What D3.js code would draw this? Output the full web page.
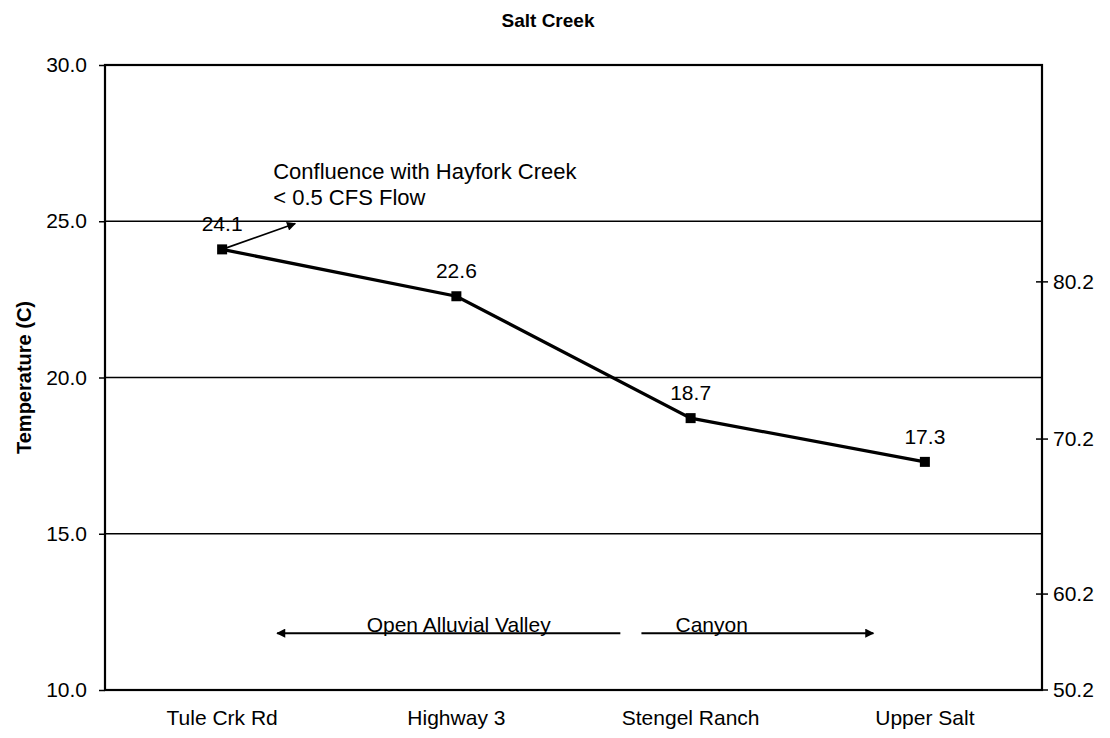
<!DOCTYPE html>
<html>
<head>
<meta charset="utf-8">
<script src="https://cdn.jsdelivr.net/npm/d3@7"></script>
<style>
  html, body { margin: 0; padding: 0; background: #fff; }
  svg { display: block; }
  text { font-family: "Liberation Sans", Arial, sans-serif; fill: #000; }
</style>
</head>
<body>
<div id="chart"></div>
<script>
// ---- data ----
const title = "Salt Creek";
const yTitle = "Temperature (C)";
const categories = ["Tule Crk Rd", "Highway 3", "Stengel Ranch", "Upper Salt"];
const temps = [24.1, 22.6, 18.7, 17.3];
const leftTicks = [10, 15, 20, 25, 30];
const rightTickLabels = ["50.2", "60.2", "70.2", "80.2"];
const rightTickAtC = [10, 13.07, 18.03, 23.06];
const noteLines = ["Confluence with Hayfork Creek", "< 0.5 CFS Flow"];
const noteAnchor = { i: 0.218, c: [26.35, 25.52] };
const noteArrowTip = { i: 0.312, c: 24.93 };
const zones = [
  { label: "Open Alluvial Valley", from: 1.70, to: 0.235, textAt: 1.01, c: 11.82 },
  { label: "Canyon", from: 1.79, to: 2.78, textAt: 2.09, c: 11.82 }
];

// ---- layout ----
const W = 1110, H = 738;
const m = { left: 105, right: 68, top: 65, bottom: 48 };
const pw = W - m.left - m.right, ph = H - m.top - m.bottom;
const FONT = "Liberation Sans, Arial, sans-serif";

const svg = d3.select("#chart").append("svg").attr("width", W).attr("height", H);
svg.append("defs").append("marker")
  .attr("id", "ah").attr("viewBox", "0 0 10 10").attr("refX", 9).attr("refY", 5)
  .attr("markerWidth", 11).attr("markerHeight", 9).attr("markerUnits", "userSpaceOnUse")
  .attr("orient", "auto")
  .append("path").attr("d", "M0,0 L10,5 L0,10 Z").attr("fill", "#000");

const g = svg.append("g").attr("transform", `translate(${m.left},${m.top})`);

const x = d3.scaleBand().domain(categories).range([0, pw]);
const bw = x.bandwidth();
const xi = i => x(categories[0]) + bw / 2 + i * bw; // fractional category index
const y = d3.scaleLinear().domain([10, 30]).range([ph, 0]);

// title
svg.append("text").attr("x", 548).attr("y", 27)
  .attr("text-anchor", "middle").attr("font-size", 19).attr("font-weight", "bold").text(title);

// grid lines
g.selectAll(".grid").data(leftTicks.filter(t => t > 10 && t < 30)).enter().append("line")
  .attr("x1", 0).attr("x2", pw).attr("y1", d => y(d)).attr("y2", d => y(d))
  .attr("stroke", "#000").attr("stroke-width", 1.5);

// frame
g.append("rect").attr("x", 0).attr("y", 0).attr("width", pw).attr("height", ph)
  .attr("fill", "none").attr("stroke", "#000").attr("stroke-width", 2.2);

// left axis
const yAxis = d3.axisLeft(y).tickValues(leftTicks).tickFormat(d3.format(".1f")).tickSize(6).tickPadding(12);
const ya = g.append("g").call(yAxis);
ya.select(".domain").remove();
ya.selectAll("line").attr("stroke", "#000").attr("stroke-width", 1.5);
ya.selectAll("text").attr("font-size", 21).attr("font-family", FONT);

// right axis (labels placed at their Celsius-equivalent positions)
const rg = g.append("g").attr("transform", `translate(${pw},0)`);
rightTickLabels.forEach((lab, k) => {
  const yy = y(rightTickAtC[k]);
  rg.append("line").attr("x1", k === 0 ? 0 : -6).attr("x2", 6).attr("y1", yy).attr("y2", yy)
    .attr("stroke", "#000").attr("stroke-width", 1.5);
  rg.append("text").attr("x", 11).attr("y", yy).attr("dy", "0.35em")
    .attr("font-size", 21).text(lab);
});

// x axis labels
const xAxis = d3.axisBottom(x).tickSize(0).tickPadding(20);
const xa = g.append("g").attr("transform", `translate(0,${ph})`).call(xAxis);
xa.select(".domain").remove();
xa.selectAll("text").attr("font-size", 21).attr("font-family", FONT);

// y title
svg.append("text").attr("transform", `translate(31,${m.top + ph / 2}) rotate(-90)`)
  .attr("text-anchor", "middle").attr("font-size", 20).attr("font-weight", "bold").text(yTitle);

// line
const line = d3.line().x((d, i) => x(categories[i]) + bw / 2).y(d => y(d));
g.append("path").datum(temps).attr("d", line).attr("fill", "none")
  .attr("stroke", "#000").attr("stroke-width", 3.2);
g.selectAll(".pt").data(temps).enter().append("rect")
  .attr("x", (d, i) => x(categories[i]) + bw / 2 - 5).attr("y", d => y(d) - 5)
  .attr("width", 10).attr("height", 10).attr("fill", "#000");
g.selectAll(".lbl").data(temps).enter().append("text")
  .attr("x", (d, i) => x(categories[i]) + bw / 2).attr("y", d => y(d) - 18)
  .attr("text-anchor", "middle").attr("font-size", 21).text(d => d3.format(".1f")(d));

// confluence note
noteLines.forEach((t, k) => {
  g.append("text").attr("x", xi(noteAnchor.i)).attr("y", y(noteAnchor.c[k]))
    .attr("font-size", 22).text(t);
});
g.append("line").attr("x1", xi(0)).attr("y1", y(temps[0]))
  .attr("x2", xi(noteArrowTip.i)).attr("y2", y(noteArrowTip.c))
  .attr("stroke", "#000").attr("stroke-width", 1.6).attr("marker-end", "url(#ah)");

// zone arrows
zones.forEach(z => {
  g.append("line").attr("x1", xi(z.from)).attr("x2", xi(z.to))
    .attr("y1", y(z.c)).attr("y2", y(z.c))
    .attr("stroke", "#000").attr("stroke-width", 2).attr("marker-end", "url(#ah)");
  g.append("text").attr("x", xi(z.textAt)).attr("y", y(z.c) - 1)
    .attr("text-anchor", "middle").attr("font-size", 21).text(z.label);
});
</script>
</body>
</html>
